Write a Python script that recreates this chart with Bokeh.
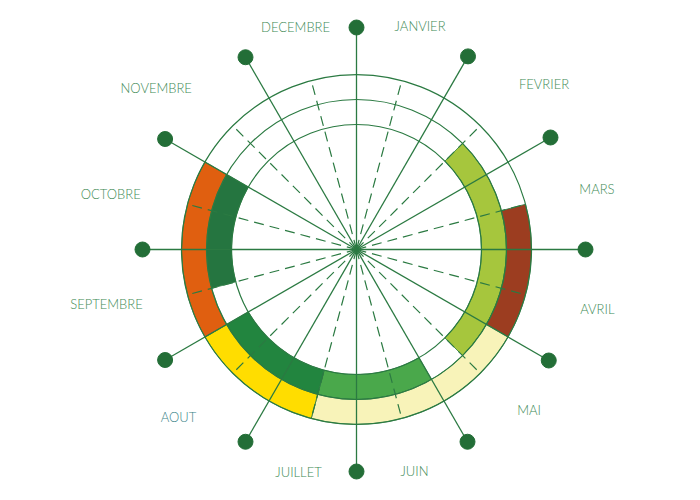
import math
from bokeh.plotting import figure
from bokeh.models import Range1d, ColumnDataSource
from bokeh.embed import file_html
from bokeh.resources import INLINE
from bokeh.core.properties import value

# ---- data ----
months = ["JANVIER", "FEVRIER", "MARS", "AVRIL", "MAI", "JUIN",
          "JUILLET", "AOUT", "SEPTEMBRE", "OCTOBRE", "NOVEMBRE", "DECEMBRE"]

# inner ring periods (in months from 1 January)
inner_start = [1.5, 5.0, 6.5, 8.5]
inner_end = [4.5, 6.5, 8.0, 10.0]
inner_colors = ["#a6c63d", "#4aa84b", "#22853f", "#257540"]

# outer ring periods
outer_start = [2.5, 4.0, 6.5, 8.0]
outer_end = [4.0, 6.5, 8.0, 10.0]
outer_colors = ["#9c3d20", "#f8f3b9", "#ffdd00", "#e05f10"]

# ---- style ----
LINE = "#2b7a42"
DOT = "#236e37"
TEXT = "#3e8a55"
R_IN, R_MID, R_OUT = 125, 150, 175
spoke_len = [222, 223, 224, 229, 222, 222, 222, 222, 221, 214, 221, 222]
label_angle = [15.9, 48.6, 75.8, 103.8, 133, 165.3, 194.6, 226.7, 257.6, 282.8, 308.8, 344.7]
label_r = [232, 250, 248, 248, 236, 228.5, 230, 244.6, 256, 252, 257, 231]
label_colors = [TEXT] * 12
label_colors[7] = "#3a8489"

p = figure(width=700, height=500, output_backend="svg", toolbar_location=None,
           x_range=Range1d(-356, 344), y_range=Range1d(-251, 249),
           min_border=0, outline_line_color=None)
p.axis.visible = False
p.grid.visible = False


def clock_to_math(deg):
    return math.radians(90 - deg)


def wedges(starts, ends, colors, r0, r1):
    src = ColumnDataSource(dict(
        start=[clock_to_math(e * 30) for e in ends],
        end=[clock_to_math(s * 30) for s in starts],
        color=colors))
    p.annular_wedge(x=0, y=0, inner_radius=r0, outer_radius=r1,
                    start_angle="start", end_angle="end", direction="anticlock",
                    fill_color="color", line_color=LINE, line_width=0.8, source=src)


wedges(inner_start, inner_end, inner_colors, R_IN, R_MID)
wedges(outer_start, outer_end, outer_colors, R_MID, R_OUT)

# circles
p.circle(x=[0, 0, 0], y=[0, 0, 0], radius=[R_IN, R_MID, R_OUT],
         fill_color=None, line_color=LINE, line_width=1.2)

# dashed half-month spokes
dang = [math.radians(15 + 30 * k) for k in range(12)]
p.segment(x0=[0] * 12, y0=[0] * 12,
          x1=[R_OUT * math.sin(a) for a in dang],
          y1=[R_OUT * math.cos(a) for a in dang],
          line_color=LINE, line_width=1.2, line_dash="10 6")

# solid spokes
sang = [math.radians(30 * k) for k in range(12)]
sx = [L * math.sin(a) for L, a in zip(spoke_len, sang)]
sy = [L * math.cos(a) for L, a in zip(spoke_len, sang)]
p.segment(x0=[0] * 12, y0=[0] * 12, x1=sx, y1=sy, line_color=LINE, line_width=1.3)
p.scatter(x=sx, y=sy, size=15, fill_color=DOT, line_color=DOT)

# labels
lx = [r * math.sin(math.radians(a)) for r, a in zip(label_r, label_angle)]
ly = [r * math.cos(math.radians(a)) for r, a in zip(label_r, label_angle)]
p.text(x=lx, y=ly, text=months, text_color=label_colors,
       text_font=value("Lato Light, Lato"), text_font_size="13px",
       text_align="center", text_baseline="middle")

open("out.html", "w").write(file_html(p, INLINE))
